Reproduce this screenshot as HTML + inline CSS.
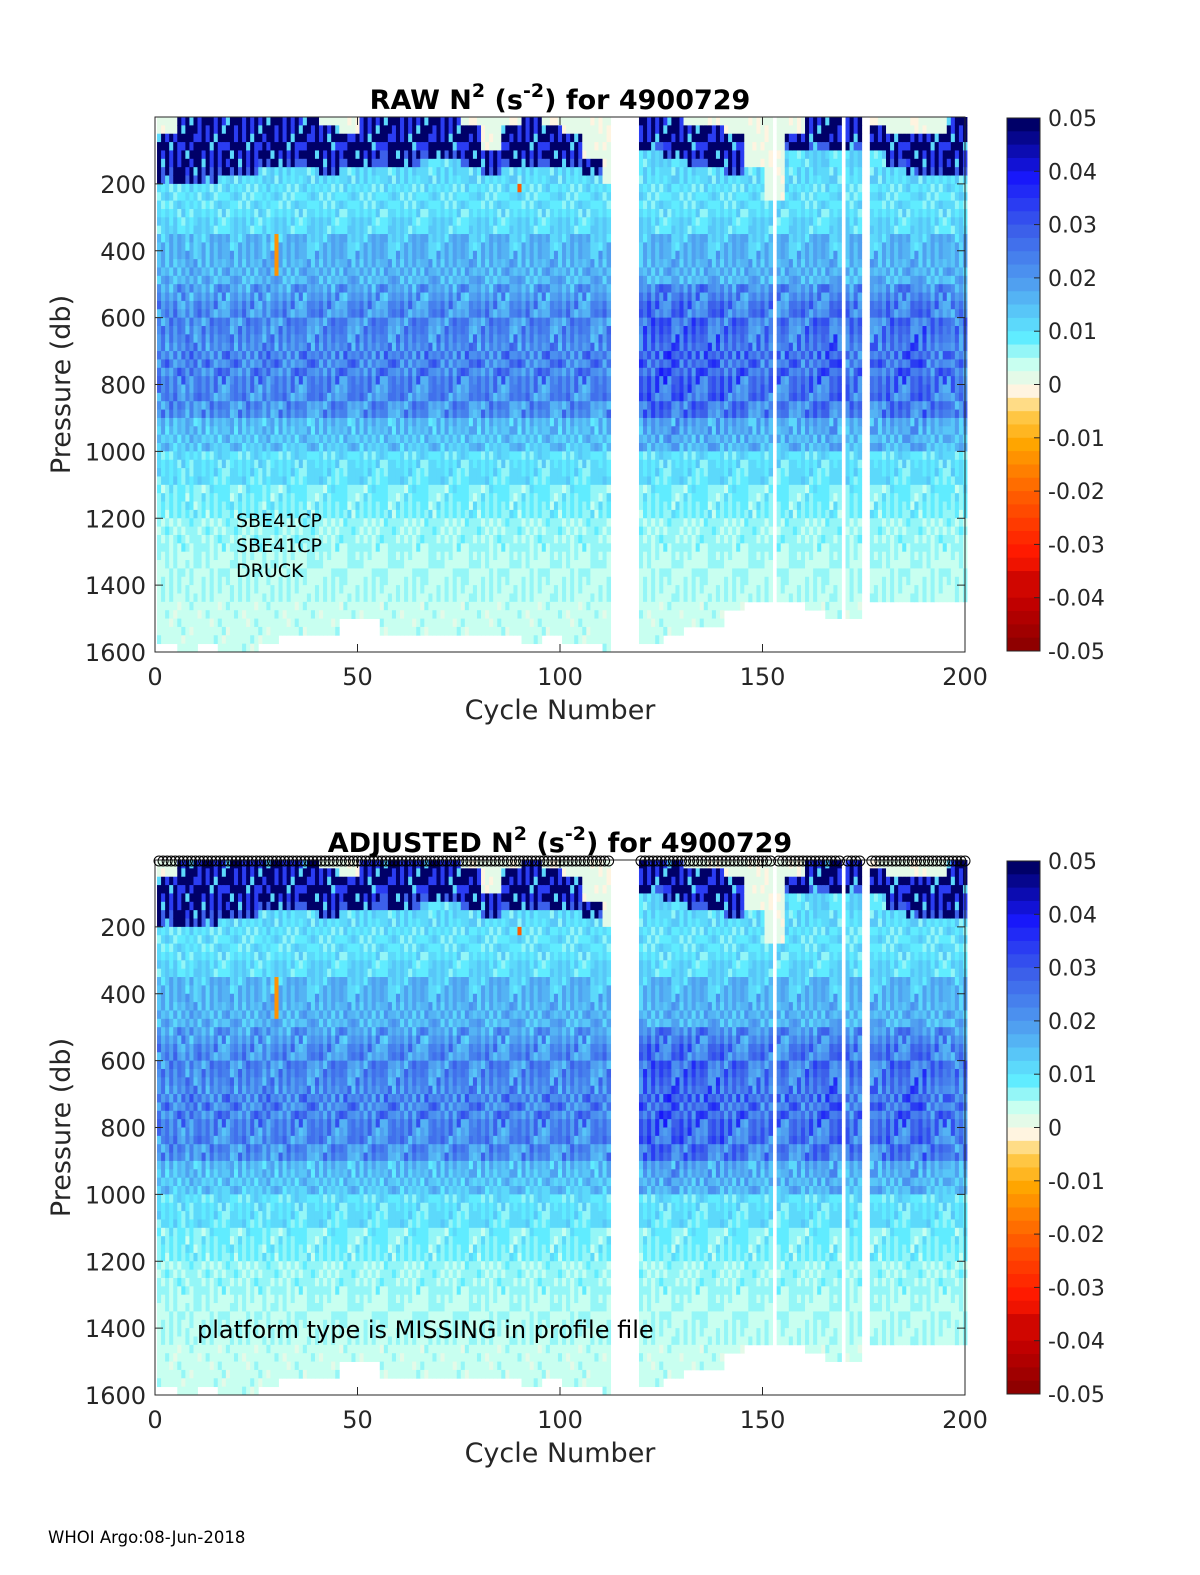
<!DOCTYPE html>
<html><head><meta charset="utf-8"><style>
body{margin:0;background:#fff}
svg{display:block;font-family:"DejaVu Sans","Liberation Sans",sans-serif}
</style></head><body>
<svg id="fig" width="1200" height="1575" viewBox="0 0 1200 1575" xmlns="http://www.w3.org/2000/svg">
<rect width="1200" height="1575" fill="#fff"/>
<text x="48" y="1543" font-size="16.5">WHOI Argo:08-Jun-2018</text>
</svg>
<script>
// ---- data ----
const missingCycles = [113,114,115,116,117,118,119,153,170,175,176];
// per 5-cycle block (40 blocks) : top of cream mixed layer, base of dark stratified layer, max pressure
const creamTop = [60,10,10,10,0,0,0,10,20,60,10,0,0,10,10,20,100,30,10,20,40,120,200,0,0,10,20,30,40,150,250,60,0,0,0,30,40,60,40,0];
const darkBot  = [190,200,190,180,170,160,150,160,170,160,150,140,140,130,130,150,170,150,160,160,160,170,200,100,110,120,150,160,180,150,250,100,90,110,100,100,150,170,180,170];
const maxP     = [1560,1580,1560,1590,1600,1560,1550,1550,1540,1500,1500,1550,1550,1550,1550,1550,1550,1550,1560,1550,1560,1560,1600,1560,1560,1540,1520,1510,1460,1450,1440,1440,1460,1500,1480,1450,1450,1450,1450,1450];
const midBoost = [1,1,1,1,1,1,1,1,1,1,1,1,1,1,1,1,1,1,1,1,1,1,1,1.2,1.25,1.25,1.2,1.2,1.15,1.1,1.1,1.1,1.15,1.2,1.1,1.1,1.15,1.2,1.1,1.05];
// N2 profile per 50 db bin (0..1600)
const profile = [0.012,0.012,0.012,0.012,0.011,0.011,0.012,0.016,0.017,0.017,0.020,0.022,0.023,0.023,0.024,0.024,0.023,0.022,0.016,0.015,0.011,0.011,0.009,0.009,0.007,0.007,0.006,0.006,0.006,0.005,0.005,0.005];
const cycAnom = "3817264950281736459182736405918273645019283746501928374650192837465019283746509182736450918273645091827364501928374650918273645092837465019283746501928374650192837465091827364509182736450918273645";
const depAnom = "5291740386152947038615294703861529470386152947038615294703861529";
const specials = [[30,350,480,-0.012],[90,190,215,-0.02]];
const xTicks = [0,50,100,150,200];
const yTicks = [200,400,600,800,1000,1200,1400,1600];
const cbTicks = [0.05,0.04,0.03,0.02,0.01,0,-0.01,-0.02,-0.03,-0.04,-0.05];
const cbLabels = ["0.05","0.04","0.03","0.02","0.01","0","-0.01","-0.02","-0.03","-0.04","-0.05"];

const NS="http://www.w3.org/2000/svg";
const svg=document.getElementById('fig');
function mk(tag,attrs,parent){const e=document.createElementNS(NS,tag);for(const k in attrs)e.setAttribute(k,attrs[k]);(parent||svg).appendChild(e);return e;}
const stops=[[0,[127,0,0]],[0.1,[192,0,0]],[0.2,[255,26,0]],[0.3,[255,90,0]],[0.4,[255,165,0]],[0.46,[255,205,80]],[0.5,[255,244,224]],[0.55,[200,255,240]],[0.6,[96,236,255]],[0.7,[80,160,240]],[0.8,[60,96,234]],[0.9,[24,24,250]],[1,[0,0,104]]];
function cmap(v){let t=(v+0.05)/0.1;t=Math.max(0,Math.min(1,t));t=Math.round(t*40)/40;
 for(let i=1;i<stops.length;i++){if(t<=stops[i][0]){const a=stops[i-1],b=stops[i];const f=(t-a[0])/(b[0]-a[0]);const c=a[1].map((x,j)=>Math.round(x+(b[1][j]-x)*f));return `rgb(${c[0]},${c[1]},${c[2]})`;}}return 'rgb(0,0,104)';}
function value(c,p,d){const b=Math.floor((c-1)/5);
 const an=(parseInt(cycAnom[(c-1)%cycAnom.length])+parseInt(depAnom[d%depAnom.length])*3)%10-4.5;
 for(const s of specials){if(c===s[0]&&p>=s[1]&&p<s[2])return s[3];}
 if(p<creamTop[b])return 0.001+Math.abs(an)*0.0003;
 if(p<darkBot[b]){ if(p>darkBot[b]-30&&an>1)return 0.03; if(an<-3.5)return 0.012; return an>2?0.035:0.05; }
 let v=profile[Math.floor(p/50)];
 if(p>=500&&p<1000)v*=midBoost[b];
 return v*(1+an*0.07);}

function panel(y0,title,isAdj){
 const X0=155,X1=965,Y1=y0+535;
 const X=c=>X0+c*(X1-X0)/200, Y=p=>y0+p*(Y1-y0)/1600;
 const g=mk('g',{});  
 for(let c=1;c<=200;c++){ if(missingCycles.includes(c))continue;
  const b=Math.floor((c-1)/5);
  for(let d=0;d<64;d++){const p=d*25; if(p>=maxP[b])break;
   const r=mk('rect',{x:X(c-0.5),y:Y(p),width:X(1)-X(0)+0.4,height:Y(25)-Y(0)+0.4,fill:cmap(value(c,p+12,d))},g);
   
   }}
 mk('rect',{x:X0,y:Y1,width:X1-X0+10,height:12,fill:'#fff'});
 const ax=mk('rect',{x:X0,y:y0,width:X1-X0,height:Y1-y0,fill:'none',stroke:'#262626','stroke-width':1});
  
 for(let i=0;i<xTicks.length;i++){const x=X(xTicks[i]);
  mk('line',{x1:x,y1:Y1,x2:x,y2:Y1-8,stroke:'#262626'});mk('line',{x1:x,y1:y0,x2:x,y2:y0+8,stroke:'#262626'});
  const t=mk('text',{x:x,y:Y1+33,'font-size':24,'text-anchor':'middle',fill:'#262626'});t.textContent=xTicks[i];
   }
 for(let i=0;i<yTicks.length;i++){const y=Y(yTicks[i]);
  mk('line',{x1:X0,y1:y,x2:X0+8,y2:y,stroke:'#262626'});mk('line',{x1:X1,y1:y,x2:X1-8,y2:y,stroke:'#262626'});
  const t=mk('text',{x:X0-9,y:y+9,'font-size':24,'text-anchor':'end',fill:'#262626'});t.textContent=yTicks[i];
   }
 const xl=mk('text',{x:560,y:Y1+67,'font-size':27,'text-anchor':'middle',fill:'#262626'});xl.textContent='Cycle Number';
  
 const yl=mk('text',{x:0,y:0,'font-size':27,'text-anchor':'middle',fill:'#262626',transform:`translate(70,${(y0+Y1)/2}) rotate(-90)`});yl.textContent='Pressure (db)';
  
 const tt=mk('text',{x:560,y:y0-8,'font-size':27,'font-weight':'bold','text-anchor':'middle',fill:'#000'});
 tt.innerHTML=title+' N<tspan font-size="19" dy="-12">2</tspan><tspan dy="12"> (s</tspan><tspan font-size="19" dy="-12">-2</tspan><tspan dy="12">) for 4900729</tspan>';
  
 // colorbar
 const cb=mk('g',{});  
 const CY=v=>y0+1+(0.05-v)/0.1*533;
 for(let k=0;k<40;k++){const v=0.05-(k+0.5)*0.0025;mk('rect',{x:1007,y:CY(0.05-k*0.0025),width:33,height:533/40+0.5,fill:cmap(v)},cb);}
 mk('rect',{x:1007,y:y0+1,width:33,height:533,fill:'none',stroke:'#262626'},cb);
 for(let i=0;i<cbTicks.length;i++){const y=CY(cbTicks[i]);mk('line',{x1:1040,y1:y,x2:1034,y2:y,stroke:'#262626'},cb);
  const t=mk('text',{x:1048,y:y+8,'font-size':22,fill:'#262626'},cb);t.textContent=cbLabels[i];
   }
 if(isAdj){
  const mg=mk('g',{});  
  for(let c=1;c<=200;c++){if(missingCycles.includes(c))continue;
   const m=mk('circle',{cx:X(c),cy:y0+1,r:5,fill:'none',stroke:'#000','stroke-width':1},mg);
    }
  const n=mk('text',{x:197,y:1338,'font-size':24,fill:'#000'});n.textContent='platform type is MISSING in profile file';
   
 } else {
  ['SBE41CP','SBE41CP','DRUCK'].forEach((s,i)=>{const t=mk('text',{x:236,y:527+i*25,'font-size':19,fill:'#000'});t.textContent=s;
    });
 }
}
panel(117,'RAW',false);
panel(860,'ADJUSTED',true);
</script>
</body></html>
